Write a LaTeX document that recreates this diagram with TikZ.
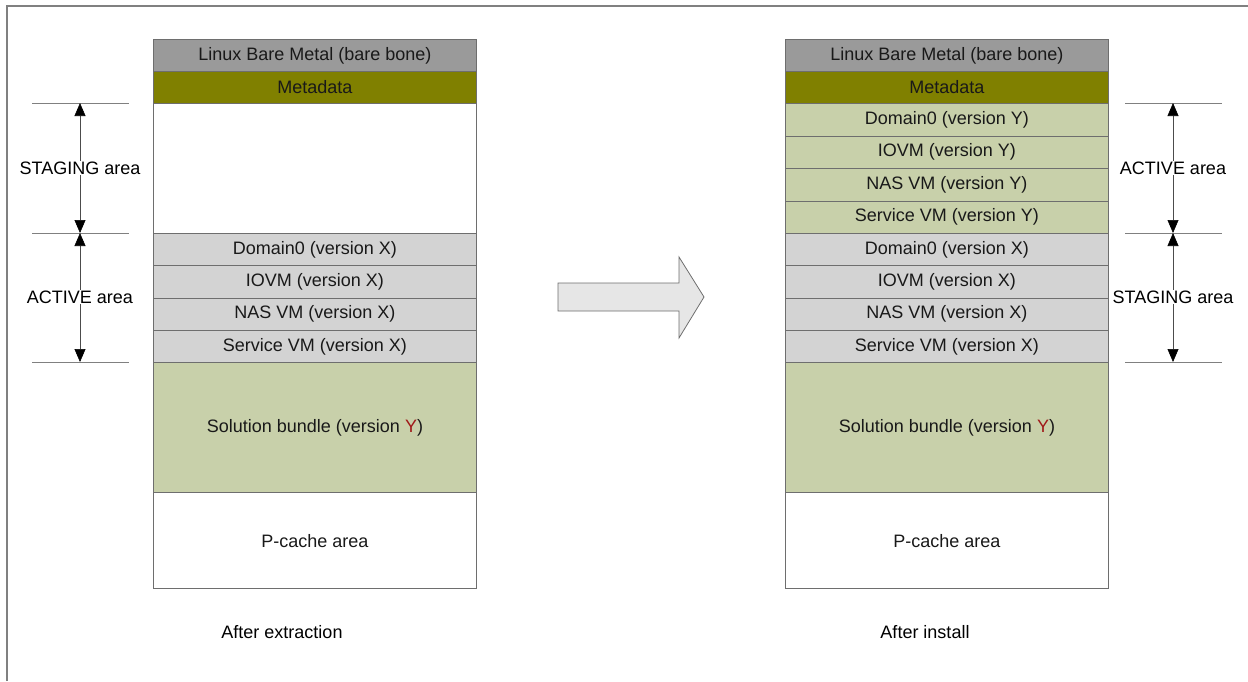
\documentclass[tikz,border=0pt]{standalone}
\usepackage{fontspec}
\setmainfont{Liberation Sans}
\usetikzlibrary{arrows.meta}
\definecolor{framegray}{HTML}{808080}
\definecolor{edgegray}{HTML}{6E6E6E}
\definecolor{basegray}{HTML}{9A9A9A}
\definecolor{metaolive}{HTML}{808000}
\definecolor{oldgray}{HTML}{D3D3D3}
\definecolor{newgreen}{HTML}{C8D0AA}
\definecolor{verred}{HTML}{A01818}
\definecolor{arrowfill}{HTML}{E6E6E6}
\tikzset{
  layer/.style={draw=edgegray, line width=0.9pt, minimum width=323pt, inner sep=0pt,
    anchor=north west, font=\fontsize{18}{21}\selectfont, text=black!90},
  base/.style={layer, fill=basegray, minimum height=32pt},
  meta/.style={layer, fill=metaolive, minimum height=32pt},
  oldrow/.style={layer, fill=oldgray, minimum height=32.3pt},
  newrow/.style={layer, fill=newgreen, minimum height=32.5pt},
  tick/.style={draw=framegray, line width=0.8pt},
  span/.style={draw=black!70, line width=0.6pt,
    {Triangle[length=13pt,width=11pt,color=black,fill=black]}-{Triangle[length=13pt,width=11pt,color=black,fill=black]}},
  spanlabel/.style={fill=white, inner sep=1pt, font=\fontsize{18}{21}\selectfont},
  caption/.style={font=\fontsize{18}{21}\selectfont}
}
\newcommand{\Yred}{\textcolor{verred}{Y}}
\begin{document}
\begin{tikzpicture}[x=1pt, y=-1pt]
\useasboundingbox (0,0) rectangle (1248,681);
% outer frame (top and left edges)
\draw[framegray, line width=1.5pt] (7,681) -- (7,6) -- (1248,6);

% ---------- left stack: after extraction ----------
\node[base] (lbase) at (153,39) {Linux Bare Metal (bare bone)};
\node[meta] (lmeta) at (153,71) {Metadata};
\node[layer, minimum height=130pt] (lstage) at (153,103) {};
\node[oldrow] (ldom) at (153,233) {Domain0 (version X)};
\node[oldrow] (liovm) at (153,265.3) {IOVM (version X)};
\node[oldrow] (lnas) at (153,297.6) {NAS VM (version X)};
\node[oldrow] (lsvc) at (153,329.9) {Service VM (version X)};
\node[layer, fill=newgreen, minimum height=130pt] (lsol) at (153,362.2) {Solution bundle (version \Yred)};
\node[layer, minimum height=96pt] (lpc) at (153,492.2) {P-cache area};
\node[caption] (lcap) at (282,632) {After extraction};

% ---------- right stack: after install ----------
\node[base] (rbase) at (785,39) {Linux Bare Metal (bare bone)};
\node[meta] (rmeta) at (785,71) {Metadata};
\node[newrow] (rdomy) at (785,103) {Domain0 (version Y)};
\node[newrow] (riovmy) at (785,135.5) {IOVM (version Y)};
\node[newrow] (rnasy) at (785,168) {NAS VM (version Y)};
\node[newrow] (rsvcy) at (785,200.5) {Service VM (version Y)};
\node[oldrow] (rdom) at (785,233) {Domain0 (version X)};
\node[oldrow] (riovm) at (785,265.3) {IOVM (version X)};
\node[oldrow] (rnas) at (785,297.6) {NAS VM (version X)};
\node[oldrow] (rsvc) at (785,329.9) {Service VM (version X)};
\node[layer, fill=newgreen, minimum height=130pt] (rsol) at (785,362.2) {Solution bundle (version \Yred)};
\node[layer, minimum height=96pt] (rpc) at (785,492.2) {P-cache area};
\node[caption] (rcap) at (925,632) {After install};

% ---------- left area markers ----------
\coordinate (la) at (80,103);
\coordinate (lb) at (80,233);
\coordinate (lc) at (80,362);
\draw[tick] (32,103) -- (129,103);
\draw[tick] (32,233) -- (129,233);
\draw[tick] (32,362) -- (129,362);
\draw[span] (la) -- (lb);
\draw[span] (lb) -- (lc);
\node[spanlabel] (lstaging) at (80,168) {STAGING area};
\node[spanlabel] (lactive) at (80,297) {ACTIVE area};

% ---------- right area markers ----------
\coordinate (ra) at (1173,103);
\coordinate (rb) at (1173,233);
\coordinate (rc) at (1173,362);
\draw[tick] (1125,103) -- (1222,103);
\draw[tick] (1125,233) -- (1222,233);
\draw[tick] (1125,362) -- (1222,362);
\draw[span] (ra) -- (rb);
\draw[span] (rb) -- (rc);
\node[spanlabel] (ractive) at (1173,168) {ACTIVE area};
\node[spanlabel] (rstaging) at (1173,297) {STAGING area};

% ---------- transition arrow ----------
\draw[fill=arrowfill, draw=edgegray, line width=0.8pt]
  (558,283) -- (679,283) -- (679,257) -- (704,297) -- (679,338) -- (679,311) -- (558,311) -- cycle;
\end{tikzpicture}
\end{document}
